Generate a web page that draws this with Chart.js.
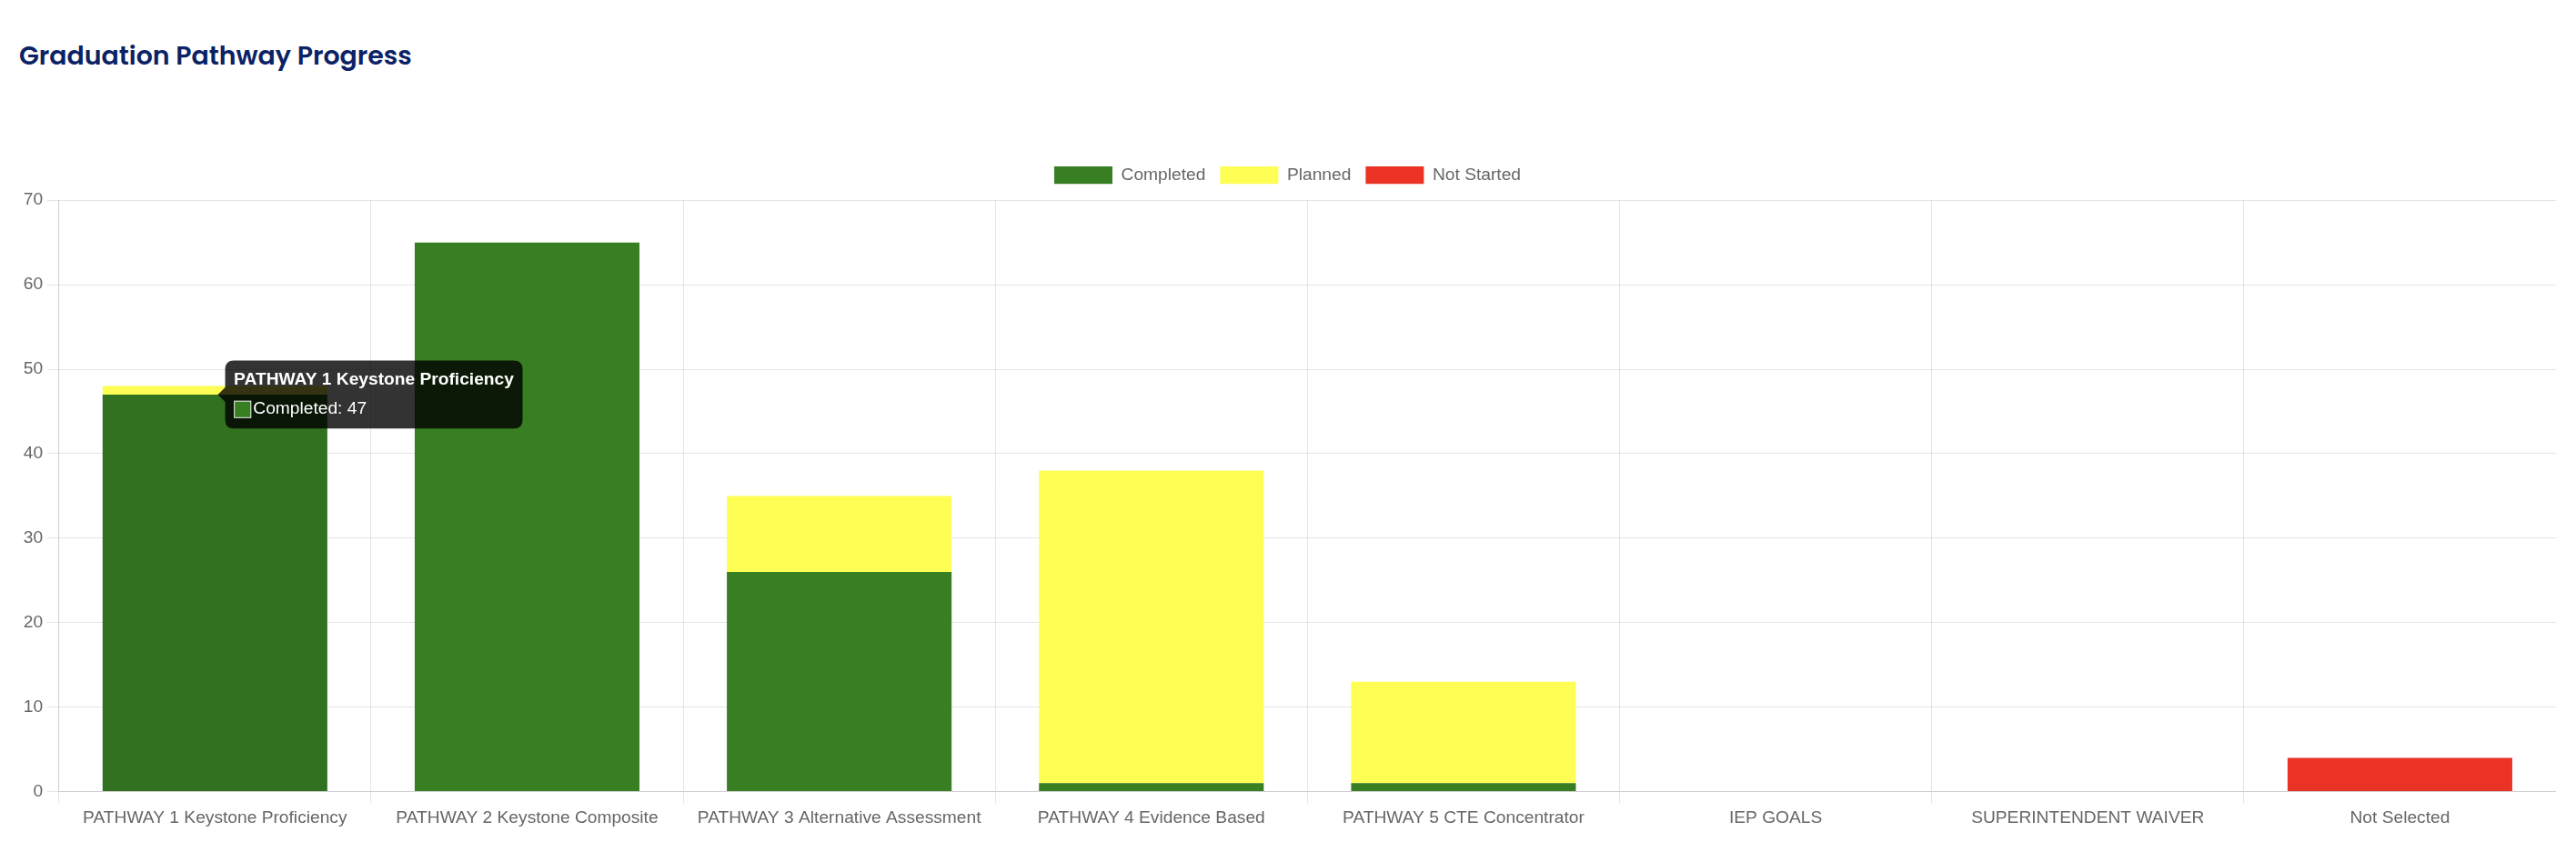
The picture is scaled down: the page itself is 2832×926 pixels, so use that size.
<!DOCTYPE html>
<html>
<head>
<meta charset="utf-8">
<title>Graduation Pathway Progress</title>
<script src="https://cdn.jsdelivr.net/npm/chart.js@4.4.1/dist/chart.umd.min.js"></script>
<style>
    html, body { margin: 0; padding: 0; background: #fff; overflow: hidden; }
    #page { position: relative; width: 2832px; height: 926px; }
    #page h5 {
        position: absolute; left: 21px; top: 44px; margin: 0;
        font-family: Poppins, Inter, sans-serif; font-weight: 600; font-size: 28.4px; line-height: 35px;
        color: #0b2265;
    }
    .chart-wrap { position: absolute; left: 21px; width: 2789px; top: 167px; height: 749px; }
</style>
</head>
<body>
<div id="page">
    <h5>Graduation Pathway Progress</h5>
    <div class="chart-wrap"><canvas id="pathway-chart"></canvas></div>
</div>
<script>
const categories = [
    'PATHWAY 1 Keystone Proficiency',
    'PATHWAY 2 Keystone Composite',
    'PATHWAY 3 Alternative Assessment',
    'PATHWAY 4 Evidence Based',
    'PATHWAY 5 CTE Concentrator',
    'IEP GOALS',
    'SUPERINTENDENT WAIVER',
    'Not Selected'
];
const completed = [47, 65, 26, 1, 1, 0, 0, 0];
const planned = [1, 0, 9, 37, 12, 0, 0, 0];
const notStarted = [0, 0, 0, 0, 0, 0, 0, 4];
const yTicks = [0, 10, 20, 30, 40, 50, 60, 70];

// screenshot was taken at 160% zoom: scale the chart.js defaults by hand
const Z = 1.6;
Chart.defaults.font.family = "'Liberation Sans', Arial, sans-serif";
Chart.defaults.font.size = 12 * Z;
Chart.defaults.color = '#666';

// legend always leaves a fixed 10px below itself, which doesn't follow the zoom
const legendGap = {
    id: 'legendGap',
    afterInit(chart) {
        const fit = chart.legend.fit;
        chart.legend.fit = function () { fit.call(this); this.height += 8; };
    }
};

const ctx = document.getElementById('pathway-chart').getContext('2d');
const chart = new Chart(ctx, {
    type: 'bar',
    data: {
        labels: categories,
        datasets: [
            { label: 'Completed', data: completed, backgroundColor: '#387e22', hoverBackgroundColor: '#31711f' },
            { label: 'Planned', data: planned, backgroundColor: '#fefe55' },
            { label: 'Not Started', data: notStarted, backgroundColor: '#ea3324' }
        ]
    },
    options: {
        responsive: true, maintainAspectRatio: false,
        animation: false,
        plugins: {
            legend: {
                position: 'top',
                labels: { boxWidth: 40 * Z, padding: 10 * Z }
            },
            tooltip: {
                padding: 6 * Z, caretSize: 5 * Z, caretPadding: 2 * Z, cornerRadius: 6 * Z,
                titleMarginBottom: 6 * Z, bodySpacing: 2 * Z,
                titleFont: { size: 12 * Z, weight: 'bold' }, bodyFont: { size: 12 * Z }
            }
        },
        scales: {
            x: {
                stacked: true,
                ticks: { padding: 3 * Z },
                grid: { tickLength: 8 * Z }
            },
            y: {
                stacked: true, min: yTicks[0], max: yTicks[yTicks.length - 1],
                ticks: { stepSize: yTicks[1] - yTicks[0], padding: 3 * Z },
                grid: { tickLength: 8 * Z }
            }
        }
    },
    plugins: [legendGap]
});

// hovered state of the first bar, as in the screenshot
const active = [{ datasetIndex: 0, index: 0 }];
chart.setActiveElements(active);
const bar = chart.getDatasetMeta(0).data[0];
chart.tooltip.setActiveElements(active, { x: bar.x, y: bar.y });
chart.update();
</script>
</body>
</html>
